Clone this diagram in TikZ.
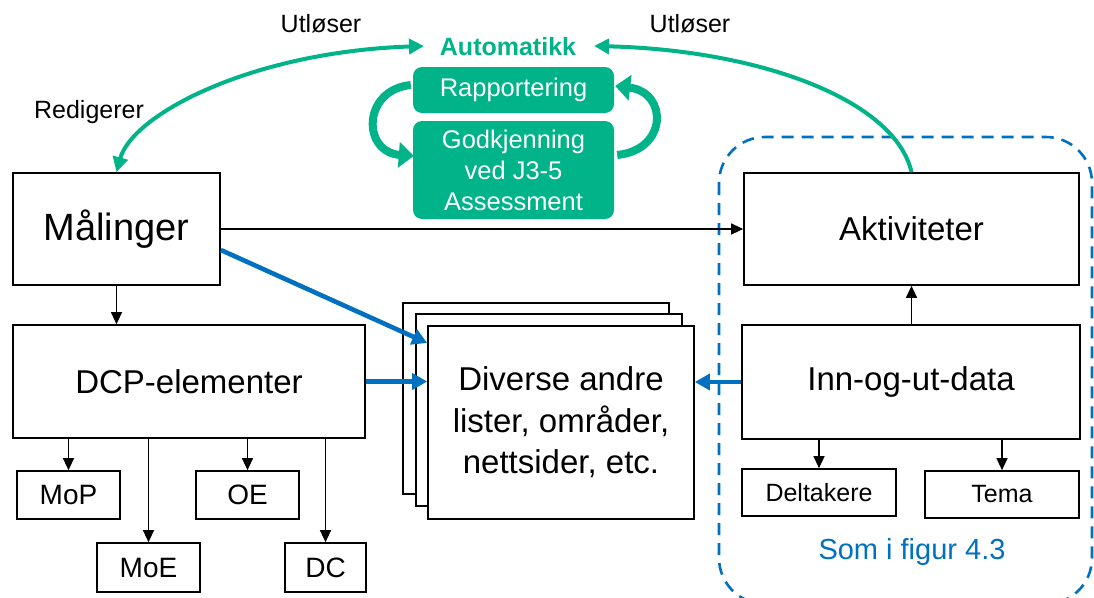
\documentclass[tikz,border=0pt]{standalone}
\usepackage{fontspec}
\setmainfont{Liberation Sans}
\usetikzlibrary{arrows.meta,calc}
\definecolor{autogreen}{RGB}{0,179,136}
\definecolor{linkblue}{RGB}{0,112,192}
\newcommand{\fsz}[1]{\fontsize{#1}{#1}\selectfont}
\begin{document}
\begin{tikzpicture}[x=1pt,y=-1pt,
  box/.style={draw, line width=1.7pt, fill=white, inner sep=0pt, align=center},
  gbox/.style={fill=autogreen, rounded corners=9pt, inner sep=0pt, align=center, text=white},
  blk/.style={line width=1.3pt, -{Triangle[length=12pt,width=11pt]}},
  bluearrow/.style={linkblue, line width=4.6pt, -{Triangle[length=15pt,width=16pt]}},
  garc/.style={autogreen, line width=4pt},
  gtip/.style={Triangle[length=15pt,width=15pt]},
  gloop/.style={autogreen, line width=8pt, -{Triangle[length=15pt,width=25pt]}},
  lbl/.style={inner sep=0pt, font=\fsz{25}}
]
\useasboundingbox (0,0) rectangle (1094,597);

% dashed group boundary on the right
\draw[linkblue, line width=2.6pt, dash pattern=on 12pt off 8pt, rounded corners=46pt]
  (719,137) rectangle (1092,604);

% left column
\node[box, minimum width=207pt, minimum height=112pt, font=\fsz{38}] (maal) at (116.5,229) {Målinger};
\node[box, minimum width=352pt, minimum height=113pt, font=\fsz{33}] (dcp) at (189,381.5) {DCP-elementer};
\node[box, minimum width=103pt, minimum height=48pt, font=\fsz{28}] (mop) at (68.5,495) {MoP};
\node[box, minimum width=103pt, minimum height=49pt, font=\fsz{28}] (moe) at (148.5,567.5) {MoE};
\node[box, minimum width=103pt, minimum height=48pt, font=\fsz{28}] (oe) at (247.5,495) {OE};
\node[box, minimum width=81pt, minimum height=49pt, font=\fsz{28}] (dc) at (325.5,567.5) {DC};

% stacked pages in the middle
\node[box, minimum width=266pt, minimum height=191pt] (stackA) at (536,398.5) {};
\node[box, minimum width=266pt, minimum height=192pt] (stackB) at (549,410) {};
\node[box, minimum width=266pt, minimum height=193pt, font=\fontsize{33}{41.5}\selectfont] (front) at (561,422.5)
  {Diverse andre\\lister, områder,\\nettsider, etc.};

% right column
\node[box, minimum width=335pt, minimum height=112pt, font=\fsz{33}] (akt) at (911.5,229) {Aktiviteter};
\node[box, minimum width=338pt, minimum height=114pt, font=\fsz{33}] (inn) at (911,382) {Inn-og-ut-data};
\node[box, minimum width=154pt, minimum height=47pt, font=\fsz{25}] (delt) at (819,492.5) {Deltakere};
\node[box, minimum width=154pt, minimum height=47pt, font=\fsz{25}] (tema) at (1002,494.5) {Tema};
\node[inner sep=0pt, text=linkblue, font=\fsz{29}] (som) at (912,552) {Som i figur 4.3};

% automation block
\node[inner sep=0pt, text=autogreen, font=\bfseries\fsz{25}] (auto) at (508,47) {Automatikk};
\node[gbox, minimum width=201pt, minimum height=46pt, font=\fsz{25.5}] (rapp) at (513.5,90) {Rapportering};
\node[gbox, minimum width=201pt, minimum height=98pt, font=\fontsize{25.5}{31}\selectfont] (godk) at (513.5,170)
  {Godkjenning\\ved J3-5\\Assessment};
\coordinate (autoL) at (424,46);
\coordinate (autoR) at (594,46);

% labels
\node[lbl] (utl1) at (321,24) {Utløser};
\node[lbl] (utl2) at (690,24) {Utløser};
\node[lbl] (red) at (89,112) {Redigerer};

% black connectors
\draw[blk] (maal.south) -- (maal.south |- dcp.north);
\draw[blk] (mop.north |- dcp.south) -- (mop.north);
\draw[blk] (moe.north |- dcp.south) -- (moe.north);
\draw[blk] (oe.north |- dcp.south) -- (oe.north);
\draw[blk] (dc.north |- dcp.south) -- (dc.north);
\draw[blk] (maal.east) -- (akt.west);
\draw[blk] (akt.south |- inn.north) -- (akt.south);
\draw[blk] (delt.north |- inn.south) -- (delt.north);
\draw[blk] (tema.north |- inn.south) -- (tema.north);

% blue connectors into the stacked pages
\draw[bluearrow] ($(maal.east)+(0,21)$) -- ($(front.west)+(0,-79.5)$);
\draw[bluearrow] (dcp.east) -- (front.west |- dcp.east);
\draw[bluearrow] (inn.west) -- (front.east |- inn.west);

% green triggers
\draw[garc, {Triangle[length=15pt,width=15pt]}-{Triangle[length=15pt,width=15pt]}]
  (maal.north) .. controls (132,115) and (250,52) .. (autoL);
\draw[garc, -{Triangle[length=15pt,width=15pt]}]
  (akt.north) .. controls (895,100) and (760,50) .. (autoR);

% reporting / approval loop
\draw[gloop] ($(rapp.west)+(-2,-5)$) .. controls (362,90) and (362,152) .. ($(godk.west)+(1,-14)$);
\draw[gloop] ($(godk.east)+(3,-15)$) .. controls (668,150) and (668,92) .. ($(rapp.east)+(1,-4)$);
\end{tikzpicture}
\end{document}
